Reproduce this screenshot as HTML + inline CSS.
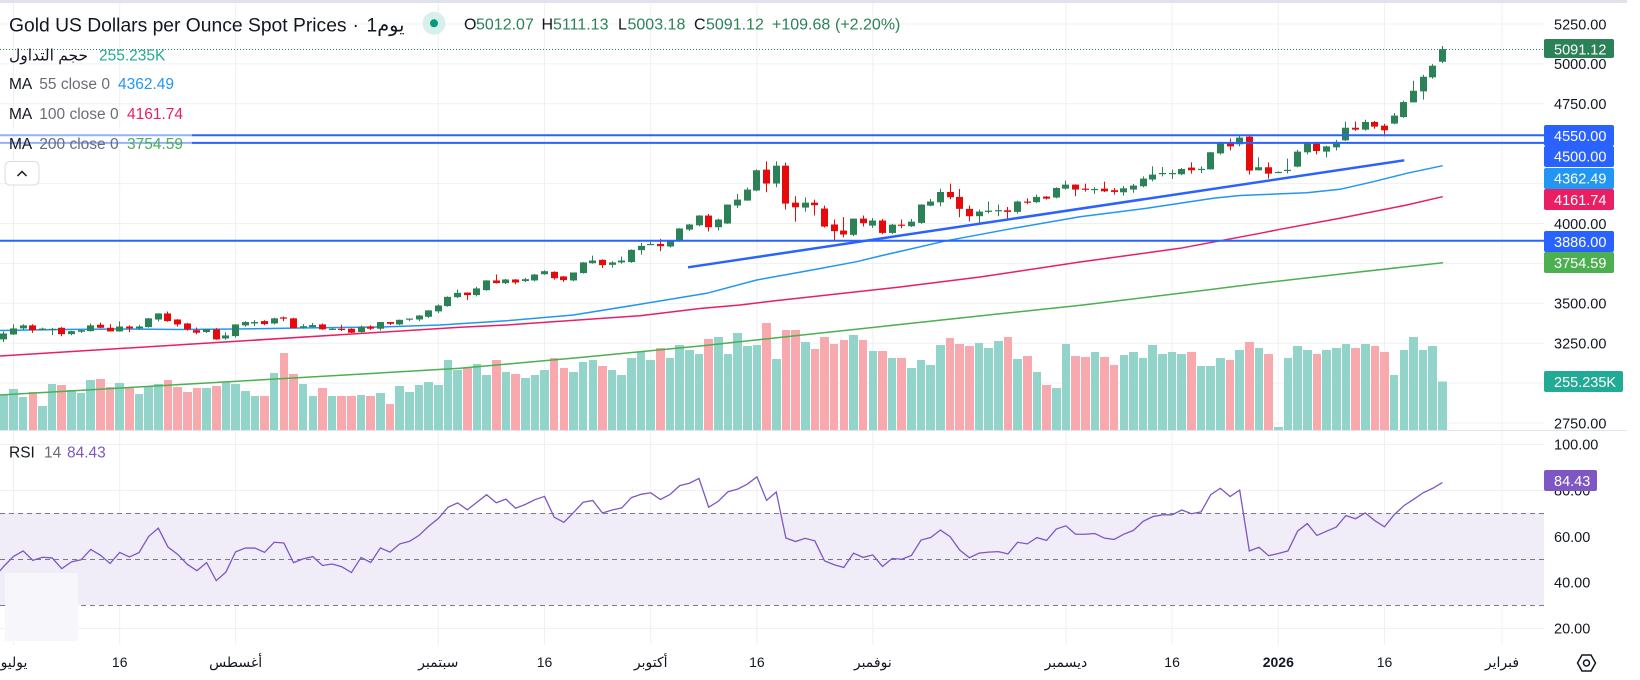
<!DOCTYPE html>
<html><head><meta charset="utf-8">
<style>
html,body{margin:0;padding:0;background:#fff;width:1640px;height:680px;overflow:hidden}
svg{display:block}
text{font-family:"Liberation Sans","DejaVu Sans",sans-serif}
</style></head><body>
<svg id="c" width="1640" height="680" viewBox="0 0 1640 680" xmlns="http://www.w3.org/2000/svg">
<rect width="1640" height="680" fill="#fff"/>
<rect x="0" y="0" width="1627" height="3" fill="#e0e3eb"/>
<!-- grid -->
<g stroke="#f0f0f3" stroke-width="1">
<line x1="0" x2="1544" y1="24" y2="24"/><line x1="0" x2="1544" y1="63.9" y2="63.9"/><line x1="0" x2="1544" y1="103.8" y2="103.8"/><line x1="0" x2="1544" y1="143.7" y2="143.7"/><line x1="0" x2="1544" y1="183.6" y2="183.6"/><line x1="0" x2="1544" y1="223.5" y2="223.5"/><line x1="0" x2="1544" y1="263.4" y2="263.4"/><line x1="0" x2="1544" y1="303.3" y2="303.3"/><line x1="0" x2="1544" y1="343.2" y2="343.2"/><line x1="0" x2="1544" y1="383.1" y2="383.1"/><line x1="0" x2="1544" y1="423" y2="423"/>
<line x1="0" x2="1544" y1="444.5" y2="444.5"/><line x1="0" x2="1544" y1="490.5" y2="490.5"/><line x1="0" x2="1544" y1="536.5" y2="536.5"/><line x1="0" x2="1544" y1="582.5" y2="582.5"/><line x1="0" x2="1544" y1="628.5" y2="628.5"/>
<line x1="13.5" x2="13.5" y1="3" y2="645"/><line x1="119.7" x2="119.7" y1="3" y2="645"/><line x1="235.6" x2="235.6" y1="3" y2="645"/><line x1="438.3" x2="438.3" y1="3" y2="645"/><line x1="544.5" x2="544.5" y1="3" y2="645"/><line x1="650.7" x2="650.7" y1="3" y2="645"/><line x1="756.9" x2="756.9" y1="3" y2="645"/><line x1="872.8" x2="872.8" y1="3" y2="645"/><line x1="1065.9" x2="1065.9" y1="3" y2="645"/><line x1="1172.1" x2="1172.1" y1="3" y2="645"/><line x1="1278.3" x2="1278.3" y1="3" y2="645"/><line x1="1384.5" x2="1384.5" y1="3" y2="645"/><line x1="1502" x2="1502" y1="3" y2="645"/>
</g>
<!-- RSI band -->
<rect x="0" y="513" width="1544" height="92" fill="#f0edf9"/>
<g stroke="#787b86" stroke-width="1" stroke-dasharray="5 4">
<line x1="0" x2="1544" y1="513.5" y2="513.5"/><line x1="0" x2="1544" y1="559.5" y2="559.5"/><line x1="0" x2="1544" y1="605.5" y2="605.5"/>
</g>
<rect x="5" y="573" width="73" height="68" fill="#f7f6fa"/>
<g id="vol"></g>
<!-- MAs -->
<polyline fill="none" stroke="#4caf50" stroke-width="1.5" points="0,395 460,368.3 580,357.5 700,346 800,335.3 900,324.5 1000,313.8 1083,305 1145,297.5 1206.7,290 1260,283.3 1350,273 1443,262.7"/>
<polyline fill="none" stroke="#e91e63" stroke-width="1.5" points="0,356 233,341.5 460,327.3 506.7,325 640,315.7 700,308.5 740,305 773,301 900,287 980,277 1080,262 1180,248.3 1260,233.3 1280,229.3 1340,218.3 1406.7,205 1442.7,196.7"/>
<polyline fill="none" stroke="#2196f3" stroke-width="1.5" points="0,330.5 60,329.5 120,329 180,329.5 236,329 300,328 380,327 440,325 506.7,320.7 573.3,315 640,304.3 706.7,293.3 756.7,280 806.7,271 856.7,261.7 880,256 946.7,240.7 1013.3,228.3 1080,216.7 1146.7,208.3 1213.3,198.3 1240,195.5 1306.7,192.7 1340,189.3 1373.3,181.7 1406.7,173.3 1442.7,165.7"/>
<g id="can"></g>
<!-- drawn lines -->
<line x1="0" x2="1544" y1="135.2" y2="135.2" stroke="#2962ff" stroke-width="2"/>
<line x1="0" x2="1544" y1="142.9" y2="142.9" stroke="#2962ff" stroke-width="2"/>
<line x1="0" x2="1544" y1="240.7" y2="240.7" stroke="#2962ff" stroke-width="2"/>
<line x1="688" y1="267.3" x2="1404.3" y2="160.3" stroke="#2962ff" stroke-width="2.5"/>
<line x1="0" x2="1544" y1="49.5" y2="49.5" stroke="#2b8257" stroke-width="1" stroke-dasharray="1 2"/>
<g id="rsi"></g>
<rect x="0" y="128" width="192" height="22" fill="#fff" fill-opacity="0.5"/>
<!-- separator -->
<line x1="0" x2="1627" y1="430.5" y2="430.5" stroke="#e0e3eb" stroke-width="1"/>
<!-- legend -->
<text x="9" y="31.5" font-size="19.3" fill="#131722">Gold US Dollars per Ounce Spot Prices</text>
<text x="352.5" y="31.5" font-size="19.3" fill="#131722">·</text>
<text x="366.5" y="31.5" font-size="19.3" fill="#131722">1يوم</text>
<circle cx="434" cy="23.3" r="11.5" fill="#d8f0eb"/>
<circle cx="434" cy="23.3" r="4" fill="#089981"/>
<g font-size="16">
<text x="464" y="29.3" fill="#131722">O</text><text x="476" y="29.3" fill="#2b8257">5012.07</text>
<text x="541.5" y="29.3" fill="#131722">H</text><text x="553" y="29.3" fill="#2b8257">5111.13</text>
<text x="618" y="29.3" fill="#131722">L</text><text x="627.5" y="29.3" fill="#2b8257">5003.18</text>
<text x="694" y="29.3" fill="#131722">C</text><text x="706" y="29.3" fill="#2b8257">5091.12</text>
<text x="772" y="29.3" fill="#2b8257">+109.68</text><text x="835" y="29.3" fill="#2b8257">(+2.20%)</text>
</g>
<g font-size="15.5">
<text x="9" y="60.5" fill="#131722">حجم التداول</text><text x="99" y="60.5" fill="#22ab94">255.235K</text>
<text x="9" y="89" fill="#131722">MA</text><text x="39.3" y="89" fill="#6a6d78">55 close 0</text><text x="118" y="89" fill="#2196f3">4362.49</text>
<text x="9" y="119" fill="#131722">MA</text><text x="39.3" y="119" fill="#6a6d78">100 close 0</text><text x="127" y="119" fill="#e91e63">4161.74</text>
<text x="9" y="149" fill="#131722">MA</text><text x="39.3" y="149" fill="#6a6d78">200 close 0</text><text x="127" y="149" fill="#4caf50">3754.59</text>
<text x="9" y="457.5" fill="#131722">RSI</text><text x="44" y="457.5" fill="#6a6d78">14</text><text x="67" y="457.5" fill="#7e57c2">84.43</text>
</g>
<rect x="5" y="161.5" width="34" height="23.5" rx="5" fill="#fff" stroke="#d9dce3" stroke-width="1"/>
<polyline points="17.5,176 22,171.5 26.5,176" fill="none" stroke="#131722" stroke-width="1.5"/>
<!-- price axis -->
<g font-size="14.5" fill="#131722">
<text x="1554" y="29.3">5250.00</text><text x="1554" y="69.2">5000.00</text><text x="1554" y="109.1">4750.00</text><text x="1554" y="228.8">4000.00</text><text x="1554" y="308.6">3500.00</text><text x="1554" y="348.5">3250.00</text><text x="1554" y="428.3">2750.00</text>
<text x="1554" y="449.5">100.00</text><text x="1554" y="495.5">80.00</text><text x="1554" y="542">60.00</text><text x="1554" y="587.5">40.00</text><text x="1554" y="633.5">20.00</text>
</g>
<g font-size="14.5" fill="#fff">
<rect x="1544" y="39" width="70" height="19" rx="2" fill="#2b8257"/><text x="1554" y="54.5">5091.12</text>
<rect x="1544" y="125" width="70" height="21" rx="2" fill="#2962ff"/><text x="1554" y="140.8">4550.00</text>
<rect x="1544" y="146" width="70" height="21" rx="2" fill="#2962ff"/><text x="1554" y="161.5">4500.00</text>
<rect x="1544" y="168" width="70" height="21" rx="2" fill="#2196f3"/><text x="1554" y="183.5">4362.49</text>
<rect x="1544" y="189" width="70" height="21" rx="2" fill="#e91e63"/><text x="1554" y="205">4161.74</text>
<rect x="1544" y="231" width="70" height="21" rx="2" fill="#2962ff"/><text x="1554" y="246.8">3886.00</text>
<rect x="1544" y="252" width="70" height="21" rx="2" fill="#4caf50"/><text x="1554" y="267.8">3754.59</text>
<rect x="1544" y="371" width="79" height="21" rx="2" fill="#22ab94"/><text x="1554" y="386.8">255.235K</text>
<rect x="1544" y="470" width="53" height="21" rx="2" fill="#7e57c2"/><text x="1554" y="485.8">84.43</text>
</g>
<!-- time axis -->
<g font-size="14" fill="#131722" text-anchor="middle">
<text x="14" y="667">يوليو</text><text x="119.7" y="667">16</text><text x="235.6" y="667">أغسطس</text><text x="438.3" y="667">سبتمبر</text><text x="544.5" y="667">16</text><text x="650.7" y="667">أكتوبر</text><text x="756.9" y="667">16</text><text x="872.8" y="667">نوفمبر</text><text x="1065.9" y="667">ديسمبر</text><text x="1172.1" y="667">16</text><text x="1278.3" y="667" font-weight="bold">2026</text><text x="1384.5" y="667">16</text><text x="1502" y="667">فبراير</text>
</g>
<polygon points="1577.5,663 1582,655 1591,655 1595.5,663 1591,671 1582,671" fill="none" stroke="#131722" stroke-width="1.5"/>
<circle cx="1586.5" cy="663" r="3" fill="none" stroke="#131722" stroke-width="1.5"/>
</svg>
<script>
(function(){
var D=[
[3270,3320,3254,3307,35],[3301,3364,3298,3339,41],[3339,3365,3330,3358,33],[3358,3365,3311,3328,38],[3328,3344,3326,3338,24],
[3333,3342,3297,3336,46],[3343,3347,3290,3303,45],[3303,3324,3296,3322,40],[3318,3331,3310,3328,37],[3322,3370,3320,3358,50],
[3362,3375,3340,3343,51],[3343,3366,3320,3320,43],[3320,3383,3319,3351,47],[3351,3358,3316,3339,43],[3339,3361,3331,3351,36],
[3347,3404,3344,3402,44],[3395,3434,3383,3433,46],[3433,3445,3381,3385,50],[3395,3397,3351,3364,43],[3370,3374,3325,3333,38],
[3328,3345,3302,3312,42],[3316,3335,3310,3335,42],[3333,3341,3268,3270,44],[3276,3315,3268,3295,48],
[3291,3365,3281,3364,46],[3358,3385,3350,3379,39],[3370,3391,3353,3379,34],[3385,3390,3359,3366,34],[3370,3406,3364,3402,57],
[3408,3414,3385,3400,77],[3402,3405,3341,3341,56],[3343,3366,3337,3353,46],[3347,3373,3347,3360,34],[3364,3370,3330,3333,42],
[3335,3345,3330,3337,34],[3337,3362,3323,3329,34],[3337,3340,3310,3312,34],[3316,3357,3312,3351,35],[3351,3358,3329,3337,34],
[3337,3379,3325,3379,37],[3379,3379,3360,3368,26],[3364,3394,3360,3393,44],[3395,3401,3385,3401,38],[3395,3423,3385,3420,45],
[3412,3454,3405,3452,48],
[3446,3490,3436,3483,45],[3479,3540,3475,3537,70],[3535,3583,3530,3562,60],[3564,3565,3517,3548,62],[3548,3600,3540,3590,66],
[3579,3641,3575,3640,55],[3640,3677,3621,3623,70],[3623,3650,3618,3646,58],[3646,3648,3617,3627,56],[3636,3656,3630,3648,52],
[3640,3680,3634,3677,55],[3679,3703,3675,3698,60],[3694,3697,3645,3654,72],[3665,3668,3631,3642,62],[3640,3690,3635,3690,58],
[3686,3755,3683,3753,68],[3748,3796,3745,3765,70],[3769,3772,3718,3736,64],[3738,3760,3720,3753,60],[3753,3790,3745,3765,55],
[3755,3835,3750,3832,72],[3830,3876,3801,3857,78],
[3866,3882,3863,3869,70],[3869,3901,3824,3855,82],[3853,3892,3847,3890,72],[3886,3968,3883,3966,85],[3959,3995,3950,3991,80],
[3986,4050,3980,4047,76],[4047,4057,3947,3974,91],[3974,4028,3953,4022,93],[3997,4116,3995,4116,76],[4110,4183,4095,4147,97],
[4141,4222,4140,4210,84],[4204,4337,4200,4331,85],[4335,4387,4193,4248,107],[4248,4387,4225,4360,71],[4360,4379,4085,4122,100],
[4128,4168,4009,4099,100],[4097,4160,4072,4128,88],[4128,4147,4047,4112,81],[4091,4110,3972,3978,93],[3991,4022,3890,3949,86],
[3953,4037,3911,3928,90],[3926,4028,3918,4028,95],[4028,4047,3978,3999,90],
[3984,4032,3970,4016,79],[4016,4025,3930,3938,79],[3938,3995,3932,3990,72],[3990,4022,3967,3985,72],[3980,4026,3975,4009,62],
[4001,4118,3995,4116,70],[4109,4152,4105,4135,65],[4130,4216,4105,4195,85],[4195,4247,4149,4162,92],[4164,4214,4036,4089,86],
[4089,4110,4011,4043,84],[4043,4084,4003,4072,87],[4070,4135,4060,4078,82],[4079,4116,4043,4081,89],[4080,4101,4028,4070,93],
[4070,4140,4060,4135,71],[4135,4155,4118,4128,74],[4131,4178,4125,4164,58],[4166,4170,4148,4153,45],[4160,4225,4155,4220,42],
[4216,4266,4210,4241,86],[4241,4243,4168,4210,74],[4216,4247,4197,4210,73],[4211,4225,4183,4214,78],[4216,4260,4195,4199,73],
[4206,4220,4178,4195,65],[4193,4232,4172,4218,75],[4210,4245,4190,4235,78],[4231,4293,4225,4279,72],[4273,4356,4262,4304,85],
[4308,4352,4293,4314,76],[4308,4335,4277,4314,78],[4306,4345,4300,4339,76],[4348,4381,4310,4331,78],[4337,4356,4314,4340,64],
[4337,4446,4335,4444,64],[4437,4502,4430,4500,72],[4506,4530,4456,4481,70],[4494,4552,4481,4536,80],[4542,4555,4304,4329,88],
[4331,4412,4330,4350,82],[4350,4381,4279,4310,76],
[4318,4323,4315,4321,3],[4330,4404,4312,4334,72],[4354,4460,4350,4448,84],[4444,4503,4431,4502,80],[4498,4500,4431,4452,76],
[4448,4485,4412,4481,80],[4475,4522,4455,4509,82],[4519,4636,4515,4598,86],[4598,4636,4578,4586,82],[4586,4648,4580,4634,86],
[4634,4640,4592,4605,84],[4611,4622,4544,4582,78],[4624,4690,4620,4674,55],[4665,4767,4660,4759,80],[4757,4893,4757,4830,93],
[4826,4930,4774,4918,80],[4914,4997,4905,4987,84],[5012.07,5111.13,5003.18,5091.12,48.5]
];
var warm=[3239,3241,3334,3431,3365,3306,3325,3235,3249,3177,3240,3203,3230,3290,3314,3295,3357,3342,3300,3288,3318,3289,
3381,3353,3374,3352,3310,3325,3322,3355,3385,3433,3385,3388,3370,3369,3368,3368,3323,3333,3328,3274];
function X(i){return 3.85+i*9.655}
function Y(p){return 23.8+(5250-p)*0.1594}
var G='#2b8257',R='#e60a0a',GV='#92d3ca',RV='#f7a9ad';
var vol='',can='';
for(var i=0;i<D.length;i++){
 var d=D[i],o=d[0],h=d[1],l=d[2],c=d[3],v=d[4],up=c>=o,x=X(i);
 var x0=Math.round(x-4.3),x1=Math.round(x+4.3);
 vol+='<rect x="'+x0+'" y="'+(430-v).toFixed(2)+'" width="'+(x1-x0)+'" height="'+v+'" fill="'+(up?GV:RV)+'"/>';
 var col=up?G:R,xi=Math.floor(x);
 can+='<line x1="'+(xi+0.5)+'" x2="'+(xi+0.5)+'" y1="'+Y(h).toFixed(2)+'" y2="'+Y(l).toFixed(2)+'" stroke="'+col+'" stroke-width="1"/>';
 var t=Y(Math.max(o,c)),b=Y(Math.min(o,c));if(b-t<1.2){b=t+1.2}
 can+='<rect x="'+(xi-3)+'" y="'+t.toFixed(2)+'" width="7" height="'+(b-t).toFixed(2)+'" fill="'+col+'"/>';
}
document.getElementById('vol').innerHTML=vol;
document.getElementById('can').innerHTML=can;
var closes=warm.concat(D.map(function(d){return d[3]}));
var ag=0,al=0,rsi=[];
for(var k=1;k<closes.length;k++){
 var ch=closes[k]-closes[k-1],g=Math.max(ch,0),lo=Math.max(-ch,0);
 if(k<=14){ag+=g/14;al+=lo/14;if(k==14)rsi[k]=100-100/(1+ag/al);}
 else{ag=(ag*13+g)/14;al=(al*13+lo)/14;rsi[k]=al==0?100:100-100/(1+ag/al);}
}
var pts=[];
for(var i=-1;i<D.length;i++){
 var kk=warm.length+i,val=rsi[kk];
 pts.push(X(i).toFixed(2)+','+(628-(val-20)*2.3).toFixed(2));
}
document.getElementById('rsi').innerHTML='<polyline fill="none" stroke="#7e57c2" stroke-width="1.3" points="'+pts.join(' ')+'"/>';
})();
</script>
</body></html>
